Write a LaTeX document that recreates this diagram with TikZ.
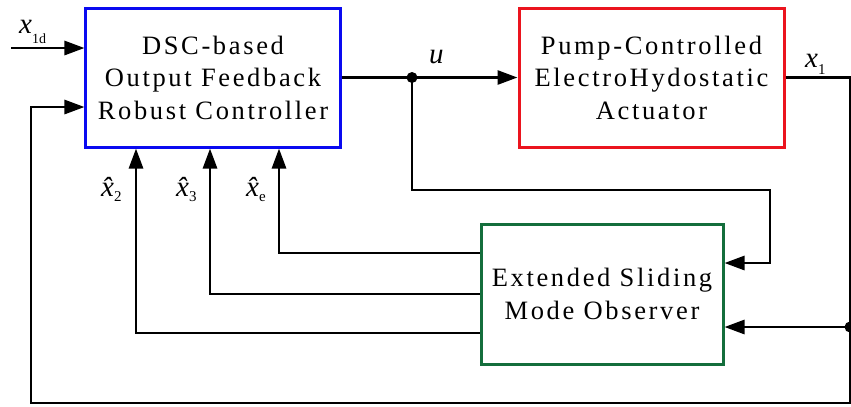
\documentclass[tikz,border=0pt]{standalone}
\usepackage{fontspec}
\setmainfont{Liberation Serif}
\newfontfamily\boxfont[LetterSpace=10]{Liberation Serif}
\usetikzlibrary{arrows.meta}
\definecolor{ctrlblue}{RGB}{10,10,240}
\definecolor{pumpred}{RGB}{235,20,30}
\definecolor{obsgreen}{RGB}{20,110,60}
\newcommand\symx[3]{{\fontsize{29bp}{29bp}\selectfont\itshape #1}\raisebox{#3}{\fontsize{15bp}{15bp}\selectfont #2}}
\begin{document}
\begin{tikzpicture}[x=1bp,y=-1bp,
  blockbox/.style={draw, line width=3bp, align=center, inner sep=0pt,
    font=\boxfont\fontsize{26.5bp}{32.5bp}\selectfont},
  conn/.style={line width=2.8bp},
  arr/.style={conn, -{Triangle[length=20bp,width=14bp]}},
  lbl/.style={anchor=base west, inner sep=0pt}]
\useasboundingbox (0,0) rectangle (851,406);

% blocks
\node[blockbox, draw=ctrlblue, minimum width=254bp, minimum height=139bp] (ctrl) at (213,77.5)
  {DSC-based\\Output Feedback\\Robust Controller};
\node[blockbox, draw=pumpred, minimum width=265bp, minimum height=139bp] (pump) at (651.5,77.5)
  {Pump-Controlled\\ElectroHydostatic\\Actuator};
\node[blockbox, draw=obsgreen, minimum width=242bp, minimum height=140bp] (obs) at (602,294)
  {Extended Sliding\\Mode Observer};

% helper coordinates
\coordinate (in1) at (11,48);
\coordinate (j) at (412,77.5);
\coordinate (b1) at (770,190);
\coordinate (y263) at (0,263);
\coordinate (rc) at (850,77.5);
\coordinate (j2) at (850,327);
\coordinate (br) at (850,403);
\coordinate (bl) at (31,403);
\coordinate (y107) at (0,107);
\coordinate (oe) at (0,253);
\coordinate (o3) at (0,294);
\coordinate (o2) at (0,333);
\coordinate (xe) at (279,0);
\coordinate (x3) at (210,0);
\coordinate (x2) at (136,0);

% connectors
\draw[arr] (in1) -- (in1 -| ctrl.west);
\draw[arr] (ctrl.east) -- (pump.west);
\fill (j) circle (5.5bp);
\draw[arr] (j) |- (b1) |- (obs.east |- y263);
\draw[arr] (pump.east) -- (rc) -- (br) -- (bl) |- (ctrl.west |- y107);
\fill (j2) circle (5.5bp);
\draw[arr] (j2) -- (obs.east |- j2);
\draw[arr] (obs.west |- oe) -| (ctrl.south -| xe);
\draw[arr] (obs.west |- o3) -| (ctrl.south -| x3);
\draw[arr] (obs.west |- o2) -| (ctrl.south -| x2);

% labels
\node[lbl] (lx1d) at (19,33) {{\fontsize{29bp}{29bp}\selectfont\itshape x}\raisebox{-10bp}{\fontsize{14bp}{14bp}\selectfont 1d}};
\node[lbl] (lu) at (429,63) {\fontsize{29bp}{29bp}\selectfont\itshape u};
\node[lbl] (lx1) at (805,67) {\symx{x}{1}{-7bp}};
\node[lbl] (lx2) at (101,196) {\symx{\^{x}}{2}{-5bp}};
\node[lbl] (lx3) at (176,196) {\symx{\^{x}}{3}{-5bp}};
\node[lbl] (lxe) at (246,196) {\symx{\^{x}}{e}{-5bp}};
\end{tikzpicture}
\end{document}
